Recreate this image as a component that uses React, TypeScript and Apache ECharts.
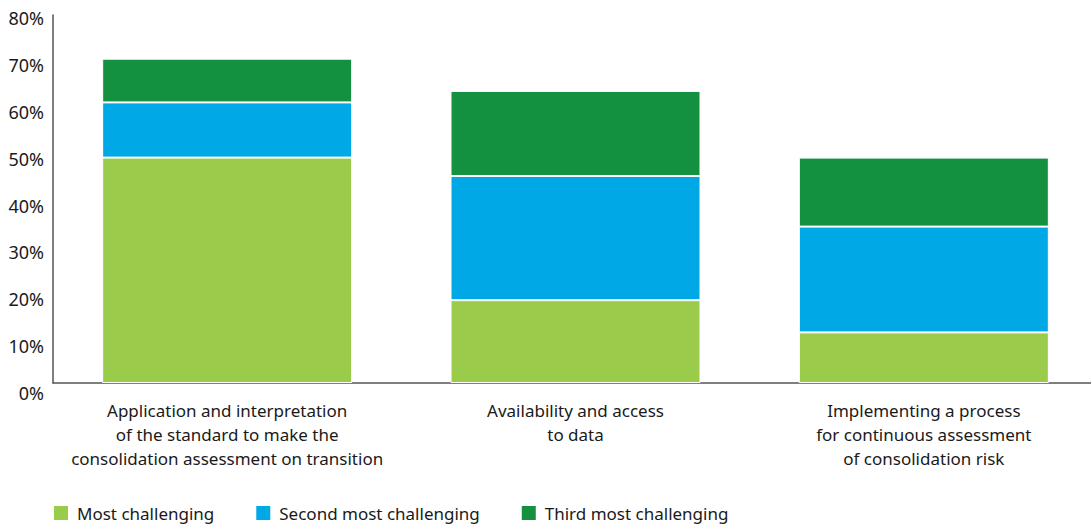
import React, { useEffect, useRef } from "react";
import * as echarts from "echarts";

const categories = [
  "Application and interpretation\nof the standard to make the\nconsolidation assessment on transition",
  "Availability and access\nto data",
  "Implementing a process\nfor continuous assessment\nof consolidation risk",
];
const mostChallenging = [49, 18, 11];
const secondMost = [12, 27, 23];
const thirdMost = [9.5, 18.5, 15];
const seriesNames = ["Most challenging", "Second most challenging", "Third most challenging"];
const colors = ["#9BCB4B", "#00A9E6", "#139140"];

export default function App() {
  const ref = useRef<HTMLDivElement>(null);
  useEffect(() => {
    if (!ref.current) return;
    const chart = echarts.init(ref.current, null, { renderer: "svg" });
    const font = "'Noto Sans', 'Open Sans', sans-serif";
    const mk = (name: string, data: number[], color: string) => ({
      name,
      type: "bar",
      stack: "total",
      data,
      barWidth: 250,
      xAxisIndex: 0,
      yAxisIndex: 0,
      itemStyle: { color, borderColor: "#ffffff", borderWidth: 1 },
    });
    chart.setOption({
      animation: false,
      color: colors,
      textStyle: { fontFamily: font },
      grid: [
        { left: 53, top: 15, width: 1045, height: 368, outerBoundsMode: "none", containLabel: false },
        { left: 53, top: 18, width: 1045, height: 375, outerBoundsMode: "none", containLabel: false },
      ],
      legend: {
        left: 52,
        top: 504,
        padding: 0,
        icon: "rect",
        itemWidth: 16,
        itemHeight: 16,
        itemGap: 40,
        data: seriesNames,
        textStyle: { fontFamily: font, fontSize: 17, color: "#1a1a1a", padding: [0, 0, 0, 3] },
      },
      xAxis: [
        {
          type: "category",
          data: categories,
          gridIndex: 0,
          axisLine: { lineStyle: { color: "#555555", width: 1.5 } },
          axisTick: { show: false },
          axisLabel: {
            fontFamily: font,
            fontSize: 17,
            color: "#1a1a1a",
            lineHeight: 24,
            margin: 15,
            align: "center",
            interval: 0,
          },
        },
        {
          type: "category",
          data: categories,
          gridIndex: 1,
          show: false,
        },
      ],
      yAxis: [
        {
          type: "value",
          gridIndex: 0,
          min: 0,
          max: 80,
          interval: 10,
          axisLine: { show: true, lineStyle: { color: "#555555", width: 1.5 } },
          axisTick: { show: false },
          axisLabel: { show: false },
          splitLine: { show: false },
        },
        {
          type: "value",
          gridIndex: 1,
          min: 0,
          max: 80,
          interval: 10,
          axisLine: { show: false },
          axisTick: { show: false },
          splitLine: { show: false },
          axisLabel: {
            fontFamily: font,
            fontSize: 18,
            color: "#1a1a1a",
            margin: 9,
            formatter: (v: number) => `${v}%`,
          },
        },
      ],
      series: [
        mk(seriesNames[0], mostChallenging, colors[0]),
        mk(seriesNames[1], secondMost, colors[1]),
        mk(seriesNames[2], thirdMost, colors[2]),
      ],
    });
    return () => chart.dispose();
  }, []);
  return (
    <div
      ref={ref}
      style={{ position: "fixed", left: 0, top: 0, width: 1091, height: 528, background: "#fff" }}
    />
  );
}
